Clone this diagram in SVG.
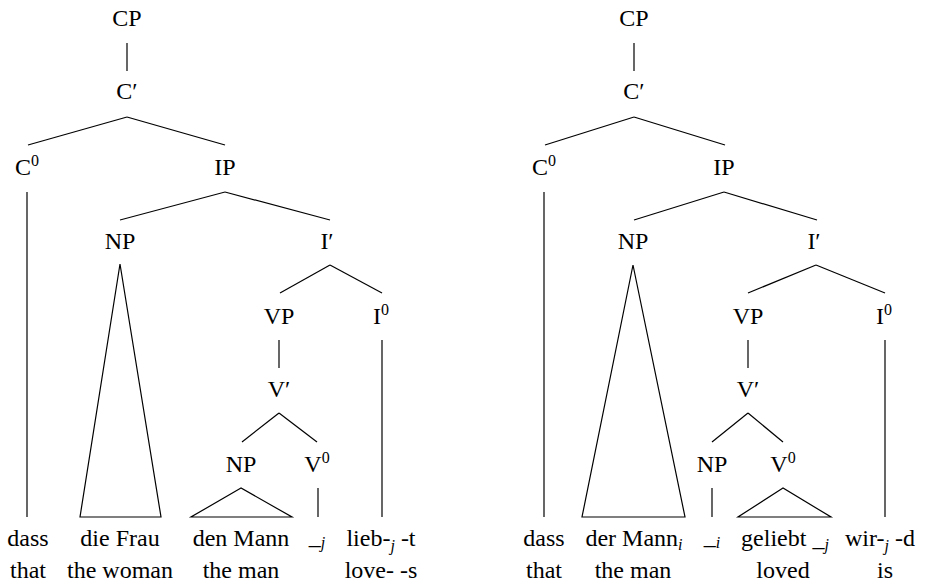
<svg xmlns="http://www.w3.org/2000/svg" width="929" height="585" viewBox="0 0 929 585">
<style>
text{font-family:"Liberation Serif","DejaVu Serif",serif;font-size:24px;fill:#000;text-anchor:middle}
.sup{font-size:16px}
.sub{font-size:16px;font-style:italic}
#connectors line,#connectors polygon{stroke:#000;stroke-width:1.2;fill:none}
</style>
<rect width="929" height="585" fill="#fff"/>
<g id="connectors">
<line x1="127" y1="43" x2="127" y2="71"/>
<line x1="127" y1="117" x2="28" y2="145"/>
<line x1="127" y1="117" x2="225" y2="145"/>
<line x1="27" y1="192" x2="27" y2="517"/>
<line x1="225" y1="192" x2="120" y2="220"/>
<line x1="225" y1="192" x2="330" y2="220"/>
<polygon points="120,264 80,517 161,517"/>
<line x1="330" y1="265" x2="280" y2="293"/>
<line x1="330" y1="265" x2="382" y2="293"/>
<line x1="279" y1="340" x2="279" y2="368"/>
<line x1="382" y1="340" x2="382" y2="517"/>
<line x1="279" y1="413" x2="242" y2="442"/>
<line x1="279" y1="413" x2="317" y2="442"/>
<polygon points="241,488 191,517 292,517"/>
<line x1="318" y1="488" x2="318" y2="517"/>
<line x1="634" y1="43" x2="634" y2="71"/>
<line x1="634" y1="117" x2="545" y2="145"/>
<line x1="634" y1="117" x2="725" y2="145"/>
<line x1="544" y1="192" x2="544" y2="517"/>
<line x1="724" y1="192" x2="634" y2="220"/>
<line x1="724" y1="192" x2="817" y2="220"/>
<polygon points="633,265 582,517 685,517"/>
<line x1="816" y1="265" x2="748" y2="293"/>
<line x1="816" y1="265" x2="885" y2="293"/>
<line x1="748" y1="340" x2="748" y2="368"/>
<line x1="885" y1="340" x2="885" y2="517"/>
<line x1="748" y1="413" x2="712" y2="442"/>
<line x1="748" y1="413" x2="783" y2="442"/>
<line x1="712" y1="488" x2="712" y2="517"/>
<polygon points="783,488 738,517 831,517"/>
</g>
<g id="L-CP"><text x="127" y="26">CP</text></g>
<g id="L-Cbar"><text x="127" y="99">C′</text></g>
<g id="L-C0"><text x="27" y="175">C<tspan class="sup" dy="-9">0</tspan></text></g>
<g id="L-IP"><text x="225" y="175">IP</text></g>
<g id="L-NP"><text x="120" y="249">NP</text></g>
<g id="L-Ibar"><text x="327" y="249">I′</text></g>
<g id="L-VP"><text x="279" y="324">VP</text></g>
<g id="L-I0"><text x="381" y="324">I<tspan class="sup" dy="-9">0</tspan></text></g>
<g id="L-Vbar"><text x="279" y="397">V′</text></g>
<g id="L-NP2"><text x="241" y="472">NP</text></g>
<g id="L-V0"><text x="317" y="472">V<tspan class="sup" dy="-9">0</tspan></text></g>
<g id="L-dass"><text x="28" y="546">dass</text><text x="28" y="578">that</text></g>
<g id="L-dieFrau"><text x="120" y="546">die Frau</text><text x="120" y="578">the woman</text></g>
<g id="L-denMann"><text x="241" y="546">den Mann</text><text x="241" y="578">the man</text></g>
<g id="L-trace"><text x="317" y="544">_<tspan class="sub" dy="4">j</tspan></text></g>
<g id="L-lieb"><text x="381" y="546">lieb-<tspan class="sub" dy="5">j</tspan><tspan dy="-5"> -t</tspan></text><text x="381" y="578">love- -s</text></g>
<g id="R-CP"><text x="634" y="26">CP</text></g>
<g id="R-Cbar"><text x="634" y="99">C′</text></g>
<g id="R-C0"><text x="544" y="175">C<tspan class="sup" dy="-9">0</tspan></text></g>
<g id="R-IP"><text x="724" y="175">IP</text></g>
<g id="R-NP"><text x="633" y="249">NP</text></g>
<g id="R-Ibar"><text x="814" y="249">I′</text></g>
<g id="R-VP"><text x="748" y="324">VP</text></g>
<g id="R-I0"><text x="884" y="324">I<tspan class="sup" dy="-9">0</tspan></text></g>
<g id="R-Vbar"><text x="748" y="397">V′</text></g>
<g id="R-NP2"><text x="712" y="472">NP</text></g>
<g id="R-V0"><text x="783" y="472">V<tspan class="sup" dy="-9">0</tspan></text></g>
<g id="R-dass"><text x="544" y="546">dass</text><text x="544" y="578">that</text></g>
<g id="R-derMann"><text x="634" y="546">der Mann<tspan class="sub" dy="4">i</tspan></text><text x="633" y="578">the man</text></g>
<g id="R-trace"><text x="712" y="544">_<tspan class="sub" dy="4">i</tspan></text></g>
<g id="R-geliebt"><text x="785" y="546">geliebt _<tspan class="sub" dy="4">j</tspan></text><text x="783" y="578">loved</text></g>
<g id="R-wird"><text x="880" y="546">wir-<tspan class="sub" dy="5">j</tspan><tspan dy="-5"> -d</tspan></text><text x="885" y="578">is</text></g>
</svg>
